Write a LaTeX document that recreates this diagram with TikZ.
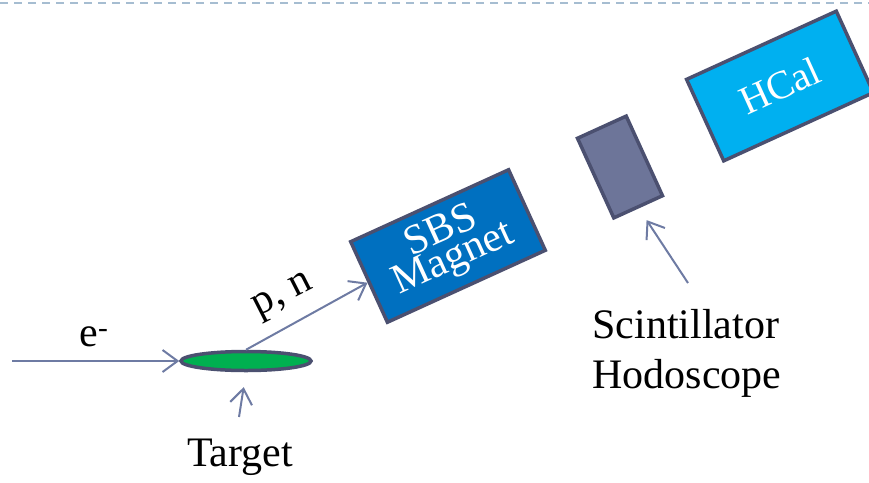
\documentclass[tikz,border=0pt]{standalone}
\usepackage{fontspec}
\setmainfont{Liberation Serif}
\usetikzlibrary{shapes,arrows.meta,calc}

\definecolor{linecol}{HTML}{6E7BA3}
\definecolor{edgecol}{HTML}{4B5070}
\definecolor{magcol}{HTML}{0070C0}
\definecolor{hcalcol}{HTML}{00B0F0}
\definecolor{hodocol}{HTML}{6D7599}
\definecolor{targcol}{HTML}{00B050}
\definecolor{dashcol}{HTML}{A6BDD1}

\begin{document}
\begin{tikzpicture}[x=1pt,y=-1pt,
	box/.style={rectangle, draw=edgecol, line width=3.5pt, inner sep=0pt, rotate=24.5},
	ptr/.style={draw=linecol, line width=2pt, -{Straight Barb[length=15pt,width=22pt,line width=2pt]}},
	lbl/.style={font=\fontsize{42}{50}\selectfont}]

		\useasboundingbox (0,0) rectangle (869,482);
		\clip (0,0) rectangle (869,482);

		%% dashed rule along the top
		\draw[dashcol, line width=2.5pt, dash pattern=on 8pt off 6pt] (0,3) -- (869,3);

		%% detector parts
		\node[ellipse, draw=edgecol, line width=3.5pt, fill=targcol, inner sep=0pt,
			minimum width=130, minimum height=19] (target) at (246,361) {};
		\node[box, fill=magcol, minimum width=173.5, minimum height=88.5,
			text=white, align=center, font=\fontsize{42}{30}\selectfont] (magnet) at (448,246) {SBS\\Magnet};
		\node[box, fill=hodocol, minimum width=53.5, minimum height=87.5] (hodo) at (620,167) {};
		\node[box, fill=hcalcol, minimum width=164.5, minimum height=89.5,
			text=white, font=\fontsize{40}{48}\selectfont] (hcal) at (780,86) {HCal};

		%% labels
		\begin{scope}[every node/.style={lbl}]
			\node (elabel) at (94,337) {e\textsuperscript{-}};
			\node[rotate=27] (pnlabel) at (284,297) {p, n};
			\node (tlabel) at (240,457) {Target};
			\node[align=left] (hlabel) at (687,353) {Scintillator\\Hodoscope};
		\end{scope}

		\coordinate (beam) at (12,361);
		\coordinate (tptr) at (239,417);
		\coordinate (hptr) at (688,283);

		%% particles and pointers
		\draw[ptr] (beam) -- (target.west);
		\draw[ptr] (target.north) -- (magnet.west);
		\draw[ptr, shorten >=15pt] (tptr) -- (target.south);
		\draw[ptr, shorten >=14pt] (hptr) -- (hodo.south);

	\end{tikzpicture}
\end{document}
